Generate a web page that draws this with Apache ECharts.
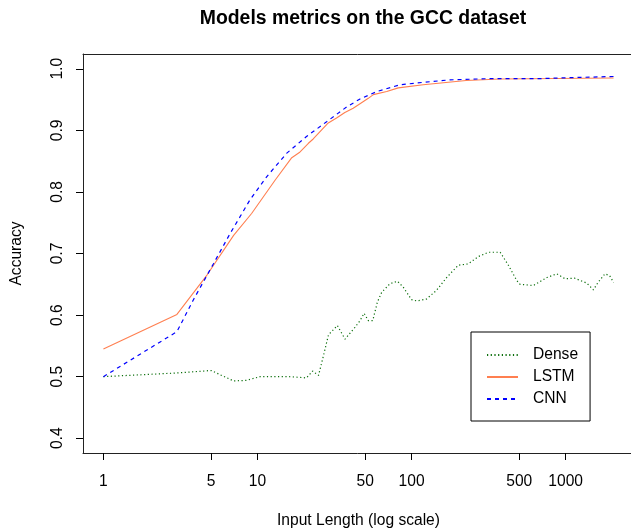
<!DOCTYPE html>
<html>
<head>
<meta charset="utf-8">
<script src="https://cdn.jsdelivr.net/npm/echarts@6/dist/echarts.min.js"></script>
<style>
html,body{margin:0;padding:0;background:#fff;}
#chart{width:631px;height:529px;}
</style>
</head>
<body>
<div id="chart"></div>
<script>
// ---- data ----
const denseLen = [1, 3, 5, 7, 8.5, 10.4, 16, 20.8, 22.8, 24.9, 26.8, 28.9, 33, 37, 42.9, 46.3, 49.2, 52.4, 56, 60, 64, 72.5, 81, 88.5, 100, 108, 125, 145, 169, 201, 233, 271, 316, 376, 425, 482, 506, 618, 756, 876, 991, 1140, 1370, 1515, 1623, 1800, 1930, 2048];
const denseAcc = [0.500, 0.506, 0.510, 0.493, 0.494, 0.500, 0.500, 0.498, 0.509, 0.502, 0.534, 0.568, 0.583, 0.561, 0.580, 0.591, 0.603, 0.591, 0.591, 0.621, 0.637, 0.651, 0.655, 0.645, 0.625, 0.623, 0.626, 0.640, 0.661, 0.681, 0.683, 0.695, 0.702, 0.702, 0.681, 0.656, 0.650, 0.648, 0.661, 0.667, 0.659, 0.660, 0.652, 0.641, 0.653, 0.667, 0.664, 0.653];

const lstmLen = [1, 3, 4.7, 7, 9.16, 13, 16.6, 18.7, 21.4, 23, 28.8, 32.6, 36.9, 41.8, 52.4, 56.5, 69, 82, 119, 226, 375, 2048];
const lstmAcc = [0.545, 0.601, 0.665, 0.7295, 0.765, 0.819, 0.855, 0.864, 0.879, 0.886, 0.912, 0.920, 0.929, 0.936, 0.952, 0.958, 0.963, 0.969, 0.974, 0.981, 0.9835, 0.985];

const cnnLen = [1, 3, 3.84, 5.17, 6.63, 8.93, 11.5, 15.5, 20.8, 28.1, 37.9, 46.3, 59.4, 84, 119, 177, 322, 680, 1240, 2048];
const cnnAcc = [0.500, 0.573, 0.625, 0.683, 0.732, 0.787, 0.825, 0.863, 0.890, 0.914, 0.938, 0.951, 0.963, 0.974, 0.978, 0.982, 0.984, 0.984, 0.986, 0.9875];

const xTicks = [1, 5, 10, 50, 100, 500, 1000];
const yTicks = [0.4, 0.5, 0.6, 0.7, 0.8, 0.9, 1.0];

const seriesNames = ['Dense', 'LSTM', 'CNN'];

function pairs(xs, ys) { return xs.map((x, i) => [x, ys[i]]); }

const font = 'Liberation Sans, Arial, Helvetica, sans-serif';
const chart = echarts.init(document.getElementById('chart'), null, {renderer: 'canvas'});

// R-style 4% axis extension
const xLogMin = 0, xLogMax = Math.log10(2048);
const xPad = (xLogMax - xLogMin) * 0.04;
const yMin = 0.4, yMax = 1.0, yPad = (yMax - yMin) * 0.04;

const boxLine = {show: true, lineStyle: {color: '#222', width: 1}};

chart.setOption({
  animation: false,
  backgroundColor: '#fff',
  title: {
    text: 'Models metrics on the GCC dataset',
    left: 358,
    top: 4,
    textAlign: 'center',
    textStyle: {fontFamily: font, fontSize: 19.4, fontWeight: 'bold', color: '#000'}
  },
  grid: {
    left: 83, top: 54, right: -3, bottom: 76,
    containLabel: false,
    outerBoundsMode: 'none',
    show: false
  },
  legend: {
    data: seriesNames,
    orient: 'vertical',
    left: 471, top: 332,
    borderColor: '#000', borderWidth: 1, borderRadius: 0,
    padding: [15, 12, 14, 15],
    itemWidth: 31, itemHeight: 14, itemGap: 6,
    itemStyle: {opacity: 0},
    textStyle: {fontFamily: font, fontSize: 15.6, color: '#000', padding: [0, 0, 0, 10]},
    backgroundColor: '#fff'
  },
  xAxis: [{
    type: 'log',
    logBase: 10,
    position: 'bottom',
    min: Math.pow(10, xLogMin - xPad),
    max: Math.pow(10, xLogMax + xPad),
    name: 'Input Length (log scale)',
    nameLocation: 'middle',
    nameGap: 60,
    nameTextStyle: {fontFamily: font, fontSize: 15.6, color: '#000'},
    axisLine: boxLine,
    splitLine: {show: false},
    axisTick: {show: true, customValues: xTicks, length: 7, inside: false, lineStyle: {color: '#000', width: 1}},
    axisLabel: {
      customValues: xTicks,
      fontFamily: font, fontSize: 15.6, color: '#000', margin: 21,
      formatter: v => String(Math.round(v))
    }
  }, {
    type: 'value',
    position: 'top',
    min: 0, max: 1,
    axisLine: boxLine,
    axisTick: {show: false},
    axisLabel: {show: false},
    splitLine: {show: false}
  }],
  yAxis: {
    type: 'value',
    min: yMin - yPad,
    max: yMax + yPad,
    name: 'Accuracy',
    nameLocation: 'middle',
    nameRotate: 90,
    nameGap: 58,
    nameTextStyle: {fontFamily: font, fontSize: 15.6, color: '#000'},
    axisLine: boxLine,
    splitLine: {show: false},
    axisTick: {show: true, customValues: yTicks, length: 7, lineStyle: {color: '#000', width: 1}},
    axisLabel: {
      customValues: yTicks,
      rotate: 90,
      fontFamily: font, fontSize: 15.6, color: '#000', margin: 17,
      formatter: v => v.toFixed(1)
    }
  },
  series: [
    {
      name: 'Dense', type: 'line', symbol: 'none', smooth: false, xAxisIndex: 0,
      data: pairs(denseLen, denseAcc),
      lineStyle: {color: '#0b6e0b', width: 1.2, type: [1.2, 2.5]},
      itemStyle: {color: '#0b6e0b'}
    },
    {
      name: 'LSTM', type: 'line', symbol: 'none', smooth: false, xAxisIndex: 0,
      data: pairs(lstmLen, lstmAcc),
      lineStyle: {color: '#FF7F50', width: 1.1, type: 'solid'},
      itemStyle: {color: '#FF7F50'}
    },
    {
      name: 'CNN', type: 'line', symbol: 'none', smooth: false, xAxisIndex: 0,
      data: pairs(cnnLen, cnnAcc),
      lineStyle: {color: '#0000FF', width: 1.2, type: [4, 4]},
      itemStyle: {color: '#0000FF'}
    }
  ]
});
</script>
</body>
</html>
